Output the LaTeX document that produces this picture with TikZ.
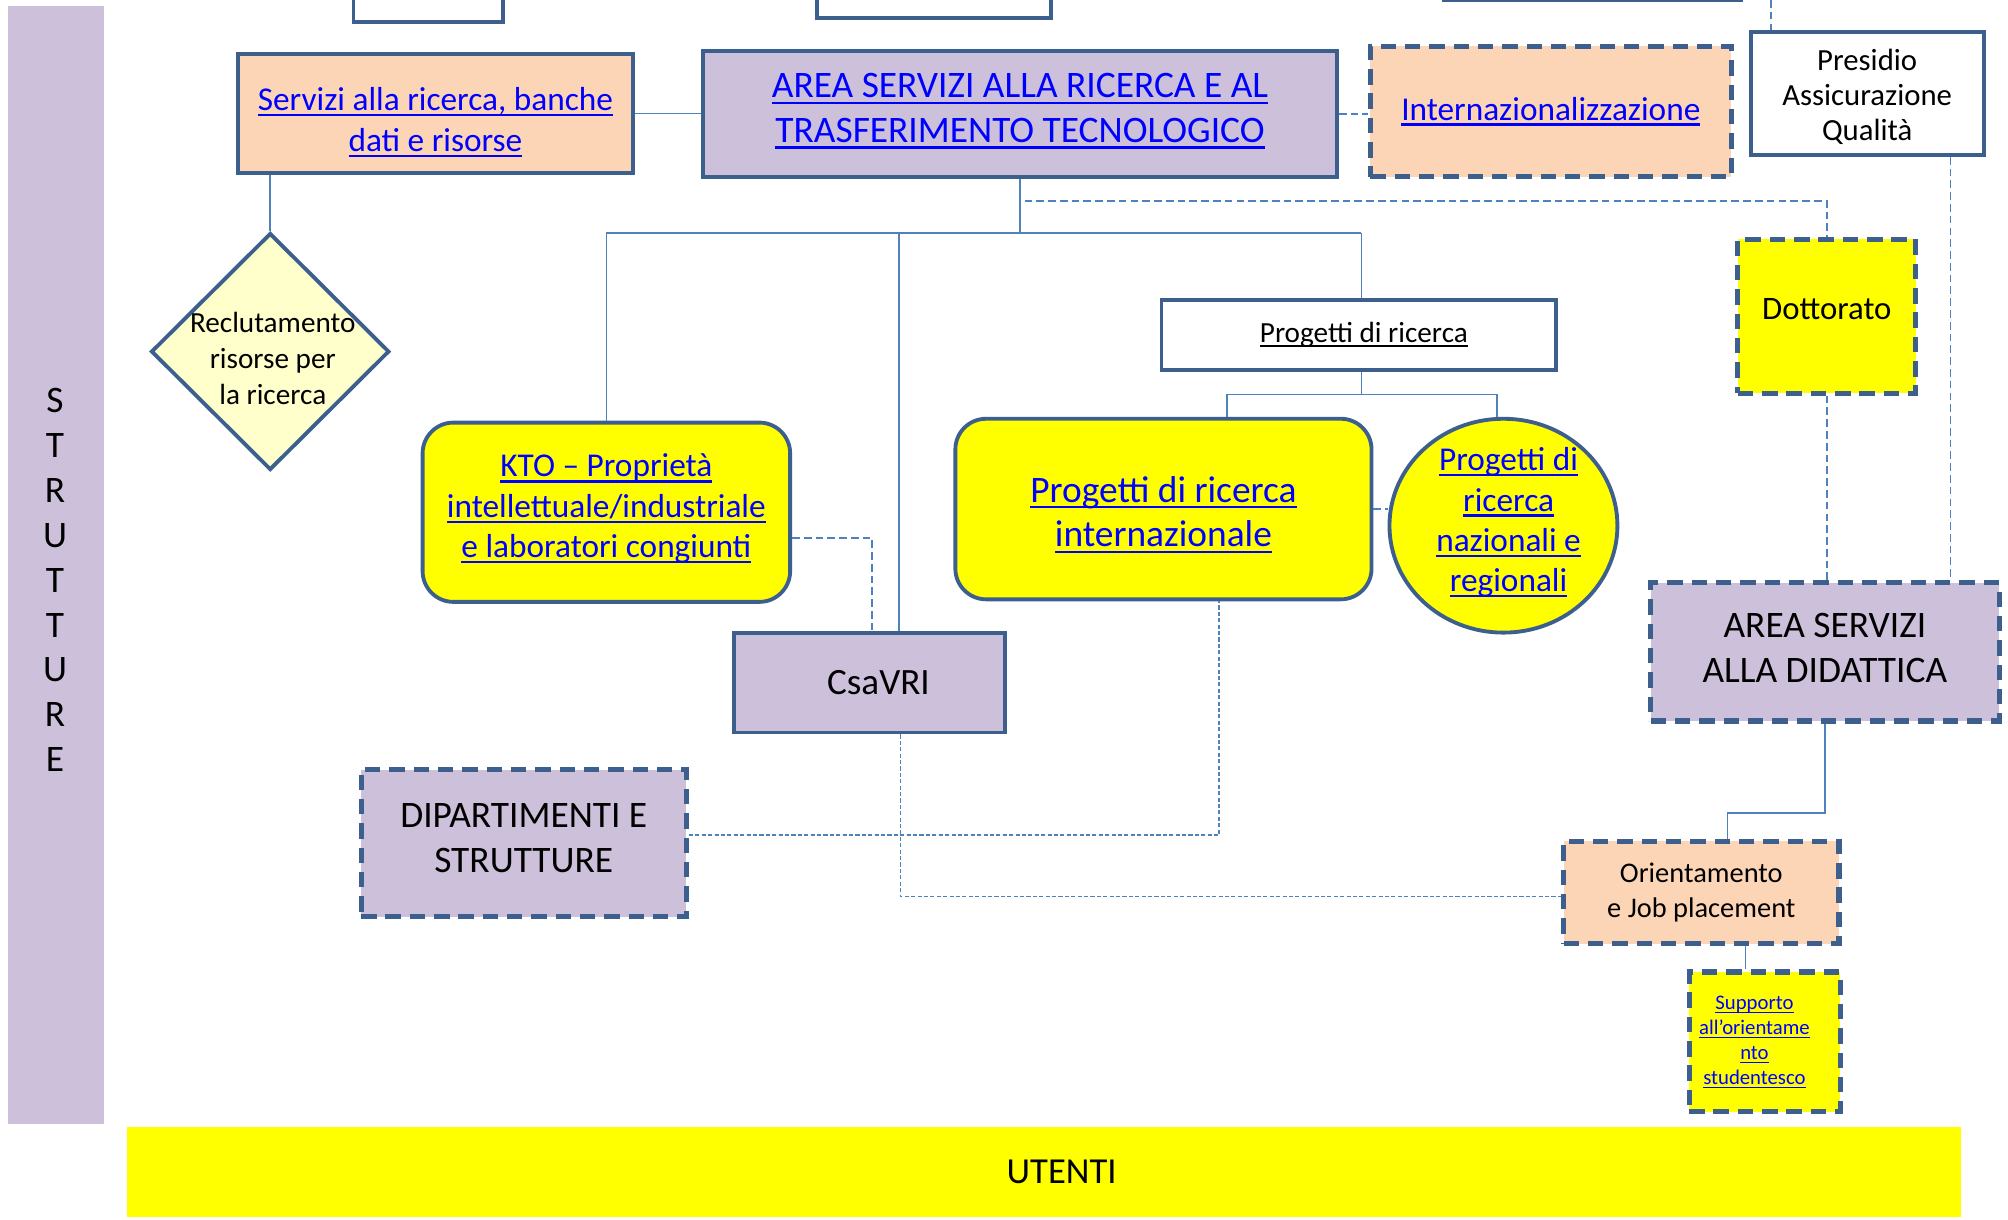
\documentclass[tikz,border=0pt]{standalone}
\usepackage{fontspec}
\setmainfont{Carlito}
\usetikzlibrary{shapes.geometric}
\definecolor{bordc}{HTML}{3C5F8E}
\definecolor{linec}{HTML}{4F81BD}
\definecolor{lav}{HTML}{CCC0DA}
\definecolor{peach}{HTML}{FBD5B5}
\definecolor{yel}{HTML}{FFFF00}
\definecolor{lyel}{HTML}{FFFFCC}
\definecolor{linkblue}{HTML}{0000FF}
\newcommand\myul[1]{\leavevmode\begingroup\setbox0\hbox{#1}\rlap{\vrule height -0.1em depth 0.17em width \wd0}\box0\endgroup}
\newcommand\lk[1]{\textcolor{linkblue}{\myul{#1}}}
\newcommand\fs[2]{\fontsize{#1}{#2}\selectfont}
\newcommand\uppad[1]{\rule{0pt}{#1}}
\newcommand\dnpad[1]{\rule[-#1]{0pt}{0pt}}
\tikzset{
  bxat/.style n args={4}{at={({(#1+#3)/2},{(#2+#4)/2})},
     minimum width={(#3-#1)*0.5pt}, minimum height={(#4-#2)*0.5pt}},
  bx/.style={draw=bordc, line width=1.5pt, inner sep=0pt, align=center, rectangle},
  dbx/.style={bx, line width=2pt, dash pattern=on 6pt off 3.5pt},
  con/.style={draw=linec, line width=0.6pt},
  dcon/.style={con, dash pattern=on 3pt off 1.6pt},
  tcon/.style={con, dash pattern=on 1.6pt off 0.9pt},
}
\begin{document}
\begin{tikzpicture}[x=0.5pt,y=-0.5pt]
\clip (0,0) rectangle (1568,952);
\fill[white] (0,0) rectangle (1568,952);

% side and bottom bars
\node[fill=lav, inner sep=0pt, bxat={6}{5}{81}{878}] (strut) {};
\node[align=center, font=\fs{14.6}{17.5}] (struttxt) at (43,453) {S\\T\\R\\U\\T\\T\\U\\R\\E};
\node[fill=yel, inner sep=0pt, bxat={99}{880}{1531}{950}, font=\fs{14.3}{17}] (ut) {\hspace*{14pt}UTENTI};

% partial boxes at the top
\node[bx, fill=white, bxat={276}{-40}{393}{17}] (top1) {};
\node[bx, fill=white, bxat={638}{-40}{821}{14}] (top2) {};
\node[bx, fill=white, line width=1pt, bxat={1127}{-60}{1360}{0.6}] (top3) {};

% boxes
\node[bx, fill=peach, bxat={186}{42}{494}{135}, font=\fs{13}{16}] (serv)
  {\uppad{16pt}\lk{Servizi alla ricerca, banche}\\\lk{dati e risorse}};
\node[bx, fill=lav, bxat={549}{40}{1044}{138}, font=\fs{14.6}{17.5}] (arear)
  {\lk{AREA SERVIZI ALLA RICERCA E AL}\\\lk{TRASFERIMENTO TECNOLOGICO}\dnpad{4.5pt}};
\node[dbx, fill=peach, bxat={1070}{36}{1352}{138}, font=\fs{13}{16}] (intl)
  {\lk{Internazionalizzazione}};
\node[bx, fill=white, bxat={1367}{25}{1549}{121}, font=\fs{12}{13.6}] (pres)
  {\uppad{11pt}Presidio\\Assicurazione\\Qualità};

\node[diamond, draw=bordc, line width=1.5pt, fill=lyel, inner sep=0pt,
  minimum width=93pt, minimum height=92.5pt] (rec) at (211,274.5) {};
\node[align=center, font=\fs{11.4}{14}] (rectxt) at (213,280)
  {Reclutamento\\risorse per\\la ricerca};

\node[bx, fill=yel, rounded corners=12pt, bxat={330}{330}{617}{470}, font=\fs{13}{15.75}] (kto)
  {\lk{KTO – Proprietà}\\\lk{intellettuale/industriale}\\\lk{e laboratori congiunti}\dnpad{5pt}};
\node[bx, fill=lav, bxat={573}{494}{785}{572}, font=\fs{14.5}{17}] (csa) {\hspace*{7pt}CsaVRI};

\node[bx, fill=white, bxat={907}{234}{1215}{289}, font=\fs{11.4}{14}] (prog)
  {\hspace*{4pt}\myul{Progetti di ricerca}};
\node[bx, fill=yel, rounded corners=12pt, bxat={746}{327}{1071}{468}, font=\fs{14.6}{17.5}] (pint)
  {\uppad{14.5pt}\lk{Progetti di ricerca}\\\lk{internazionale}};
\node[ellipse, draw=bordc, line width=1.5pt, fill=yel, inner sep=0pt,
  minimum width=89pt, minimum height=83.5pt] (circ) at (1174,410.5) {};
\node[align=center, font=\fs{13}{15.75}] (circtxt) at (1178,408)
  {\lk{Progetti di}\\\lk{ricerca}\\\lk{nazionali e}\\\lk{regionali}};

\node[dbx, fill=yel, bxat={1357}{187}{1496}{307}, font=\fs{12.8}{15}] (dott) {\raisebox{6pt}{Dottorato}};
\node[dbx, fill=lav, bxat={1289}{455}{1561}{563}, font=\fs{14.6}{17.5}] (did)
  {AREA SERVIZI\\ALLA DIDATTICA\dnpad{3pt}};
\node[dbx, fill=peach, bxat={1221}{657}{1436}{737}, font=\fs{11.1}{13.5}] (ori)
  {Orientamento\\e Job placement};
\node[dbx, fill=yel, bxat={1319}{759}{1437}{868}] (sup) {};
\node[align=center, inner sep=0pt, font=\fs{8.1}{9.75}] (suptxt) at (1370,814)
  {\lk{Supporto}\\\lk{all’orientame}\\\lk{nto}\\\lk{studentesco}};
\node[dbx, fill=lav, bxat={282}{601}{536}{716}, font=\fs{14.6}{17.75}] (dip)
  {DIPARTIMENTI E\\STRUTTURE\dnpad{4pt}};

% helper coordinates
\coordinate (bus) at (795,182);
\coordinate (cv) at (702,182);
\coordinate (d1) at (800,157);
\coordinate (qtop) at (1383,0);
\coordinate (qx) at (1523,0);
\coordinate (k1) at (681,420);
\coordinate (p0) at (1063,308);
\coordinate (pv) at (1063,182);
\coordinate (pa) at (958,308);
\coordinate (pb) at (1169,308);
\coordinate (o1) at (1349,635);
\coordinate (sx) at (1363,0);
\coordinate (p1) at (952,652);
\coordinate (c2) at (703,700);

% connectors
\draw[con] (serv.east) -- (serv.east -| arear.west);
\draw[dcon] (arear.east) -- (arear.east -| intl.west);
\draw[dcon] (qtop) -- (qtop |- pres.north);
\draw[dcon] (qx |- pres.south) -- (qx |- did.north);
\draw[con] (arear.south) -- (arear.south |- bus);
\draw[con] (kto.north |- bus) -- (pv);
\draw[con] (kto.north |- bus) -- (kto.north);
\draw[con] (cv) -- (cv |- csa.north);
\draw[con] (pv) -- (pv |- prog.north);
\draw[dcon] (d1) -- (d1 -| dott.north) -- (dott.north);
\draw[con] (rec.north |- serv.south) -- (rec.north);
\draw[dcon] (kto.east |- k1) -- (k1) -- (k1 |- csa.north);
\draw[con] (p0 |- prog.south) -- (p0);
\draw[con] (pa) -- (pb);
\draw[con] (pa) -- (pa |- pint.north);
\draw[con] (pb) -- (pb |- circ.north);
\draw[dcon] (pint.east) -- (pint.east -| circ.west);
\draw[dcon] (dott.south) -- (dott.south |- did.north);
\draw[con] (did.south) -- (did.south |- o1) -- (o1) -- (o1 |- ori.north);
\draw[con] (sx |- ori.south) -- (sx |- sup.north);
\draw[tcon] (dip.east |- p1) -- (p1) -- (p1 |- pint.south);
\draw[tcon] (c2 |- csa.south) -- (c2) -- (c2 -| ori.west);
\end{tikzpicture}
\end{document}
